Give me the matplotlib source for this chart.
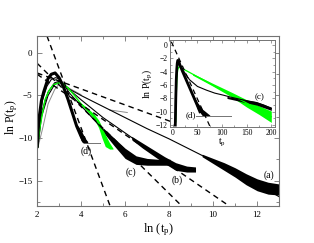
import matplotlib
matplotlib.use("Agg")
import matplotlib.pyplot as plt
from matplotlib.ticker import MultipleLocator

plt.rcParams['font.family'] = ['Liberation Serif', 'DejaVu Serif']
plt.rcParams['mathtext.fontset'] = 'custom'
plt.rcParams['mathtext.rm'] = 'Liberation Serif'
plt.rcParams['mathtext.it'] = 'Liberation Serif:italic'

# ---------------- main panel data (x = ln t_p, y = ln P) ----------------
d_x = [2.01, 2.05, 2.1, 2.2, 2.3, 2.5, 2.65, 2.82, 3.0, 3.2, 3.4, 3.6, 3.8, 4.0, 4.1]
d_y = [-11.0, -9.0, -7.5, -5.6, -4.6, -3.0, -2.5, -2.35, -2.9, -4.0, -5.4, -7.0, -8.6, -9.8, -10.3]
d_band_x = [3.8, 3.9, 4.0, 4.1, 4.2, 4.3]
d_band_hi = [-8.4, -8.7, -9.1, -9.6, -10.1, -10.4]
d_band_lo = [-8.8, -9.5, -10.3, -10.6, -10.6, -10.6]
d_floor_x = [4.3, 4.85]
d_floor_y = [-10.6, -10.6]

g_x = [2.01, 2.14, 2.36, 2.55, 2.74, 2.95, 3.12, 3.4, 3.7, 4.0, 4.3]
g_y = [-11.3, -8.6, -5.5, -4.4, -3.75, -3.55, -3.5, -4.1, -5.0, -6.0, -6.7]
g_band_x = [4.0, 4.3, 4.6, 4.8, 4.95, 5.1, 5.3, 5.45]
g_band_hi = [-5.9, -6.5, -7.2, -7.9, -8.7, -9.6, -10.6, -11.2]
g_band_lo = [-6.1, -6.9, -7.8, -8.8, -10.0, -11.0, -11.3, -11.3]

gray_x = [2.05, 2.27, 2.5, 2.8, 3.05, 3.5, 4.0]
gray_y = [-11.0, -8.7, -6.0, -4.3, -3.5, -4.2, -4.9]
gray_seg_x = [5.3, 6.1]
gray_seg_y = [-6.7, -7.0]

c_x = [2.02, 2.1, 2.25, 2.45, 2.65, 2.85, 3.05, 3.5, 4.0, 4.5, 5.0, 5.4]
c_y = [-11.0, -8.0, -5.5, -3.9, -3.1, -2.9, -3.1, -4.8, -6.2, -7.6, -9.0, -10.2]
c_band_x = [5.0, 5.5, 6.0, 6.5, 7.0, 7.5, 8.05]
c_band_hi = [-8.8, -10.0, -11.2, -12.1, -12.4, -12.5, -12.5]
c_band_lo = [-9.3, -10.9, -12.4, -13.1, -13.2, -13.2, -13.2]

b_x = [2.03, 2.2, 2.5, 2.8, 3.05, 3.5, 4.0, 5.0, 6.0, 6.5]
b_y = [-11.0, -7.0, -4.6, -3.5, -3.3, -4.4, -5.5, -7.6, -9.4, -10.3]
b_band_x = [6.3, 6.8, 7.3, 7.8, 8.3, 8.8, 9.2]
b_band_hi = [-9.8, -10.6, -11.4, -12.2, -12.9, -13.3, -13.4]
b_band_lo = [-10.2, -11.2, -12.1, -13.0, -13.8, -14.0, -14.0]

a_x = [2.04, 2.2, 2.5, 2.8, 3.05, 3.5, 4.0, 5.0, 6.0, 7.0, 8.0, 9.0, 10.0, 11.0, 12.0, 13.0]
a_y = [-11.0, -7.5, -5.0, -3.7, -3.4, -4.3, -5.0, -6.3, -7.6, -8.9, -10.1, -11.4, -12.7, -14.0, -15.4, -16.9]
a_band_x = [9.5, 10.0, 10.5, 11.0, 11.5, 12.0, 12.5, 13.0]
a_band_hi = [-11.9, -12.4, -12.9, -13.5, -14.2, -14.8, -15.2, -15.4]
a_band_lo = [-12.2, -13.0, -13.8, -14.6, -15.5, -16.2, -16.6, -16.7]

# dashed fit lines (endpoints)
fit_d_x = [2.45, 5.32]; fit_d_y = [2.0, -18.0]
fit_c_x = [2.0, 8.5];   fit_c_y = [-1.2, -17.8]
fit_b_x = [2.0, 10.68]; fit_b_y = [-2.5, -17.9]
fit_u_x = [2.0, 8.6];   fit_u_y = [-2.35, -8.55]

labels = ['(a)', '(b)', '(c)', '(d)']
label_x = [12.55, 8.35, 6.25, 4.25]
label_y = [-14.4, -14.9, -14.0, -11.5]

main_xticks = [2, 4, 6, 8, 10, 12]
main_yticks = [0, -5, -10, -15]

# ---------------- inset data (x = t_p, y = ln P) ----------------
in_d_t = [5, 6, 7, 8, 9, 10, 11, 12, 15, 20, 30, 40, 50, 55]
in_d_y = [-12.0, -8.0, -5.2, -3.6, -2.7, -2.3, -2.3, -2.5, -3.1, -4.0, -5.7, -7.4, -9.1, -10.0]
in_d_band_t = [40, 50, 60, 70, 75]
in_d_band_hi = [-7.2, -8.6, -9.6, -10.2, -10.5]
in_d_band_lo = [-7.6, -9.6, -10.6, -10.6, -10.6]
in_d_floor_t = [47, 118]
in_d_floor_y = [-10.6, -10.6]
in_fit_t = [-3, 76]
in_fit_y = [0.5, -12.3]

in_c_t = [5, 6, 7, 8, 9, 10, 12, 15, 20, 34, 50, 68, 85, 102, 120, 135, 150, 169, 185, 200]
in_c_y = [-12.0, -8.0, -5.2, -3.6, -2.7, -2.3, -2.4, -2.9, -3.7, -5.2, -6.2, -6.75, -7.2, -7.5, -7.85, -8.1, -8.35, -8.6, -9.0, -9.5]
in_c_band_t = [110, 140, 170, 200]
in_c_band_hi = [-7.7, -8.1, -8.5, -9.3]
in_c_band_lo = [-8.0, -8.5, -9.0, -9.8]

in_g_t = [6, 7, 8, 9, 10, 12, 15, 20, 34, 50, 68, 85, 102, 120, 135, 150, 169, 185, 200]
in_g_y = [-11.5, -7.5, -5.5, -4.3, -3.7, -3.3, -3.3, -3.55, -4.1, -4.75, -5.45, -6.15, -6.8, -7.5, -8.1, -8.7, -9.5, -10.1, -10.75]
in_g_band_t = [40, 80, 120, 150, 175, 200]
in_g_band_hi = [-4.25, -5.7, -7.1, -8.2, -9.1, -9.9]
in_g_band_lo = [-4.5, -6.1, -7.8, -9.3, -10.4, -11.6]

in_xticks = [0, 50, 100, 150, 200]
in_yticks = [0, -2, -4, -6, -8, -10, -12]

GREEN = '#00ff00'
FRAME = '0.45'

fig = plt.figure(figsize=(3.14, 2.43), dpi=100)
ax = fig.add_axes([0.118, 0.152, 0.771, 0.700])

ax.plot(gray_x, gray_y, color='0.55', lw=0.7)
ax.plot(gray_seg_x, gray_seg_y, color='0.55', lw=0.7)
ax.plot(a_x, a_y, color='black', lw=0.8)
ax.fill_between(a_band_x, a_band_lo, a_band_hi, color='black', lw=0)
ax.plot(b_x, b_y, color='black', lw=0.8)
ax.fill_between(b_band_x, b_band_lo, b_band_hi, color='black', lw=0)
ax.plot(c_x, c_y, color='black', lw=0.8)
ax.fill_between(c_band_x, c_band_lo, c_band_hi, color='black', lw=0)
ax.plot(g_x, g_y, color=GREEN, lw=1.0)
ax.fill_between(g_band_x, g_band_lo, g_band_hi, color=GREEN, lw=0)
ax.plot(d_x, d_y, color='black', lw=2.2)
ax.fill_between(d_band_x, d_band_lo, d_band_hi, color='black', lw=0)
ax.plot(d_floor_x, d_floor_y, color='0.45', lw=0.7)

for fx, fy in [(fit_d_x, fit_d_y), (fit_c_x, fit_c_y), (fit_b_x, fit_b_y), (fit_u_x, fit_u_y)]:
    ax.plot(fx, fy, color='black', lw=1.0, ls=(0, (4, 3)))

for lab, lx, ly in zip(labels, label_x, label_y):
    ax.text(lx, ly, lab, fontsize=7, ha='center', va='center')

ax.set_xlim(2, 13)
ax.set_ylim(-18, 2)
ax.set_xticks(main_xticks)
ax.set_yticks(main_yticks)
ax.xaxis.set_minor_locator(MultipleLocator(1))
ax.yaxis.set_minor_locator(MultipleLocator(2.5))
ax.tick_params(which='both', direction='in', top=True, right=True, labelsize=6.5, colors=FRAME, labelcolor='black')
ax.tick_params(which='major', length=3.5, width=0.6)
ax.tick_params(which='minor', length=2, width=0.6)
for s in ax.spines.values():
    s.set_color(FRAME)
    s.set_linewidth(0.8)
ax.set_xlabel(r'ln (t$_\mathrm{p}$)', fontsize=9, labelpad=2)
ax.set_ylabel(r'ln P(t$_\mathrm{p}$)', fontsize=8.5)
ax.yaxis.set_label_coords(-0.072, 0.52)

ins = fig.add_axes([0.541, 0.477, 0.334, 0.358])
ins.set_facecolor('white')
ins.plot(in_g_t, in_g_y, color=GREEN, lw=0.9)
ins.fill_between(in_g_band_t, in_g_band_lo, in_g_band_hi, color=GREEN, lw=0)
ins.plot(in_c_t, in_c_y, color='black', lw=0.8)
ins.fill_between(in_c_band_t, in_c_band_lo, in_c_band_hi, color='black', lw=0)
ins.plot(in_d_t, in_d_y, color='black', lw=2.0)
ins.fill_between(in_d_band_t, in_d_band_lo, in_d_band_hi, color='black', lw=0)
ins.plot(in_d_floor_t, in_d_floor_y, color='0.45', lw=0.7)
ins.plot(in_fit_t, in_fit_y, color='black', lw=0.9, ls=(0, (4, 3)))
ins.text(176, -7.75, '(c)', fontsize=6.5, ha='center', va='center')
ins.text(37, -10.5, '(d)', fontsize=6.5, ha='center', va='center')
ins.set_xlim(-6, 207)
ins.set_ylim(-12.3, 0.75)
ins.set_xticks(in_xticks)
ins.set_yticks(in_yticks)
ins.xaxis.set_minor_locator(MultipleLocator(25))
ins.yaxis.set_minor_locator(MultipleLocator(1))
ins.tick_params(which='both', direction='in', top=True, right=True, labelsize=5.5, colors=FRAME, labelcolor='black', pad=1.5)
ins.tick_params(which='major', length=2.5, width=0.5)
ins.tick_params(which='minor', length=1.3, width=0.5)
for s in ins.spines.values():
    s.set_color(FRAME)
    s.set_linewidth(0.7)
ins.set_xlabel(r't$_\mathrm{p}$', fontsize=7, labelpad=0)
ins.set_ylabel(r'ln P(t$_\mathrm{p}$)', fontsize=7, labelpad=1)

fig.savefig('out.png', dpi=100)
